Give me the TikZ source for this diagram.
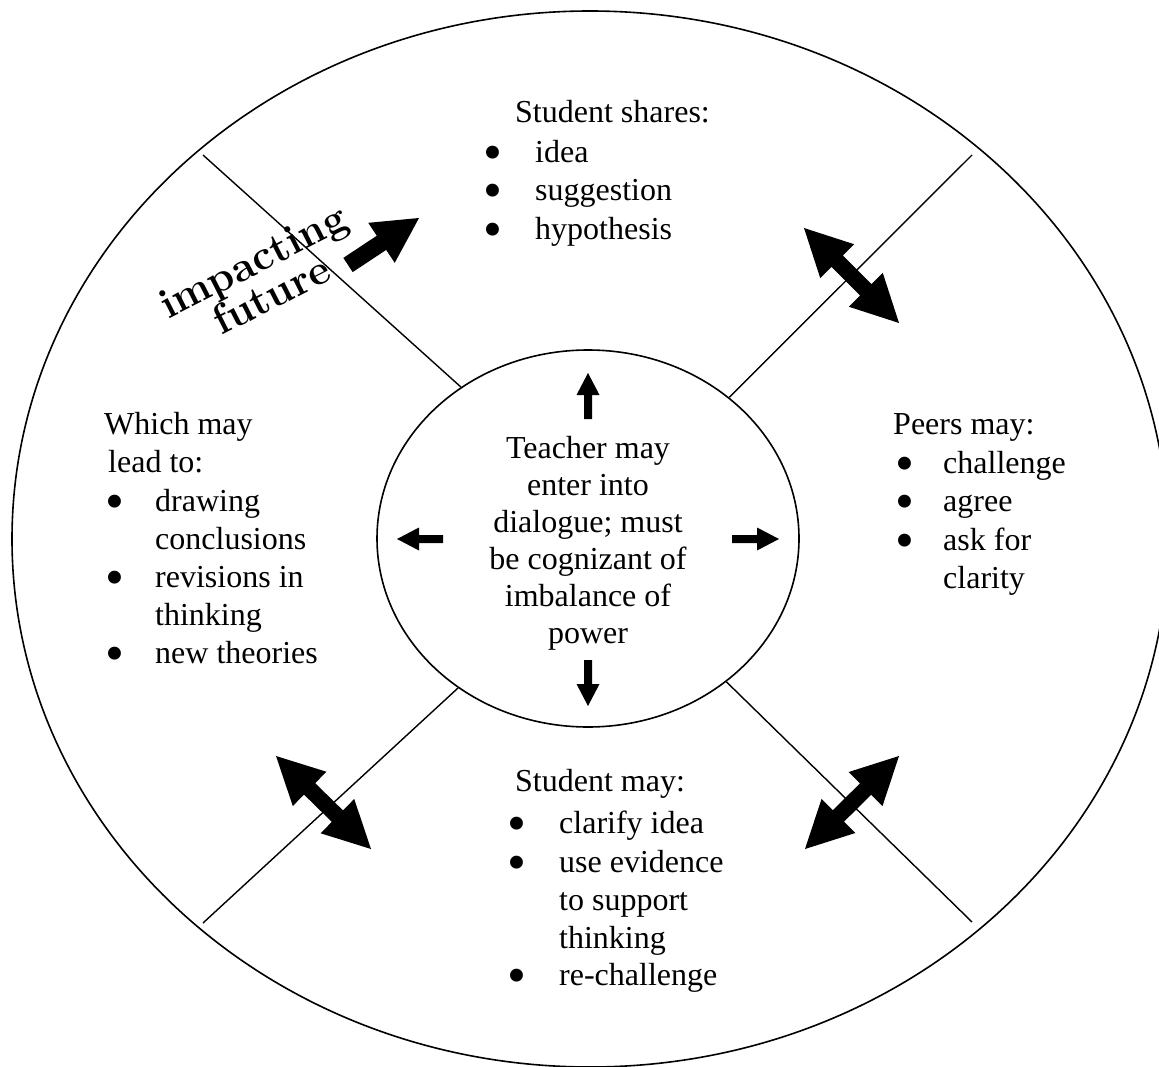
\documentclass[tikz,border=0pt]{standalone}
\usepackage{fontspec}
\newfontfamily\tnr{Liberation Serif}
\usetikzlibrary{calc,shapes.geometric}
\tikzset{
  txt/.style={anchor=base west, inner sep=0pt, font=\tnr\fontsize{32}{37}\selectfont},
  bul/.style={anchor=base, inner sep=0pt, yshift=-8pt, font=\tnr\fontsize{54}{54}\selectfont},
  divider/.style={line width=1.4pt},
  ring/.style={line width=1.6pt},
  art/.style={anchor=base west, inner sep=0pt, rotate=27, font=\fontsize{42}{42}\selectfont\bfseries},
}
% single block arrow: tail, tip, half shaft, head length, half head width
\newcommand\onearrow[5]{%
  \coordinate (hP) at ($(#2)!#4!(#1)$);
  \fill (#2) -- ($(hP)!#5!90:(#2)$) -- ($(hP)!#3!90:(#2)$) -- ($(#1)!#3!90:(#2)$)
    -- ($(#1)!#3!-90:(#2)$) -- ($(hP)!#3!-90:(#2)$) -- ($(hP)!#5!-90:(#2)$) -- cycle;}
% double block arrow: tip A, tip B, half shaft, head length, half head width
\newcommand\twoarrow[5]{%
  \coordinate (hA) at ($(#1)!#4!(#2)$);
  \coordinate (hB) at ($(#2)!#4!(#1)$);
  \fill (#1) -- ($(hA)!#5!90:(#2)$) -- ($(hA)!#3!90:(#2)$) -- ($(hB)!#3!-90:(#1)$)
    -- ($(hB)!#5!-90:(#1)$) -- (#2) -- ($(hB)!#5!90:(#1)$) -- ($(hB)!#3!90:(#1)$)
    -- ($(hA)!#3!-90:(#2)$) -- ($(hA)!#5!-90:(#2)$) -- cycle;}
\begin{document}
\begin{tikzpicture}[x=1pt,y=-1pt]
\useasboundingbox (0,0) rectangle (1159,1067);
% outer and inner ellipses
\node[ring, draw, ellipse, minimum width=1156pt, minimum height=1056pt, inner sep=0pt] (outer) at (590,539) {};
\node[ring, draw, ellipse, minimum width=422pt, minimum height=377pt, inner sep=0pt] (inner) at (588,538.5) {};
% dividers
\coordinate (oTL) at (203,155);
\coordinate (oTR) at (972,155);
\coordinate (oBL) at (203,923);
\coordinate (oBR) at (972,922);
\draw[divider] (inner.130.6) -- (oTL);
\draw[divider] (inner.45.2) -- (oTR);
\draw[divider] (inner.229.2) -- (oBL);
\draw[divider] (inner.314.6) -- (oBR);
% centre text
\node[inner sep=0pt, align=center, font=\tnr\fontsize{32}{37}\selectfont] (teacher) at (588,543)
  {Teacher may\\enter into\\dialogue; must\\be cognizant of\\imbalance of\\power};
% small arrows
\coordinate (upT) at (588,419); \coordinate (upP) at (588,373);
\coordinate (dnT) at (588,660); \coordinate (dnP) at (588,706);
\coordinate (lfT) at (443,539); \coordinate (lfP) at (397,539);
\coordinate (rtT) at (732,539); \coordinate (rtP) at (779,539);
\onearrow{upT}{upP}{4pt}{22pt}{11.5pt}
\onearrow{dnT}{dnP}{4pt}{22pt}{11.5pt}
\onearrow{lfT}{lfP}{4pt}{22pt}{11.5pt}
\onearrow{rtT}{rtP}{4pt}{22pt}{11.5pt}
% big double arrows
\coordinate (trA) at (804,228); \coordinate (trB) at (899,323);
\coordinate (blA) at (276,756); \coordinate (blB) at (371,849);
\coordinate (brA) at (899,756); \coordinate (brB) at (805,849);
\twoarrow{trA}{trB}{8pt}{47pt}{24pt}
\twoarrow{blA}{blB}{8pt}{47pt}{24pt}
\twoarrow{brA}{brB}{8pt}{47pt}{24pt}
% impacting arrow
\coordinate (imT) at (348,265); \coordinate (imP) at (419,218);
\onearrow{imT}{imP}{8.5pt}{45pt}{24pt}
\node[art] (imp) at (168,320) {impacting};
\node[art] (fut) at (221,336) {future};
% top block
\node[txt] (ts) at (515,123) {Student shares:};
\node[bul] (tb1) at (493,162.5) {•}; \node[txt] (t1) at (535,162.5) {idea};
\node[bul] (tb2) at (493,201) {•};   \node[txt] (t2) at (535,201) {suggestion};
\node[bul] (tb3) at (493,239.5) {•}; \node[txt] (t3) at (535,239.5) {hypothesis};
% right block
\node[txt] (rs) at (893,434) {Peers may:};
\node[bul] (rb1) at (905,473) {•}; \node[txt] (r1) at (943,473) {challenge};
\node[bul] (rb2) at (905,511.5) {•};   \node[txt] (r2) at (943,511.5) {agree};
\node[bul] (rb3) at (905,550) {•}; \node[txt] (r3) at (943,550) {ask for};
\node[txt] (r4) at (943,588.5) {clarity};
% left block
\node[txt] (ls1) at (104,434) {Which may};
\node[txt] (ls2) at (108,472.5) {lead to:};
\node[bul] (lb1) at (115,511) {•};   \node[txt] (l1) at (155,511) {drawing};
\node[txt] (l2) at (155,549) {conclusions};
\node[bul] (lb2) at (115,587) {•};   \node[txt] (l3) at (155,587) {revisions in};
\node[txt] (l4) at (155,625) {thinking};
\node[bul] (lb3) at (115,663) {•};   \node[txt] (l5) at (155,663) {new theories};
% bottom block
\node[txt] (bs) at (515,791) {Student may:};
\node[bul] (bb1) at (517,833.5) {•}; \node[txt] (b1) at (559,833.5) {clarify idea};
\node[bul] (bb2) at (517,872) {•};   \node[txt] (b2) at (559,872) {use evidence};
\node[txt] (b3) at (559,910) {to support};
\node[txt] (b4) at (559,948.5) {thinking};
\node[bul] (bb3) at (517,985.5) {•}; \node[txt] (b5) at (559,985.5) {re-challenge};
\end{tikzpicture}
\end{document}
